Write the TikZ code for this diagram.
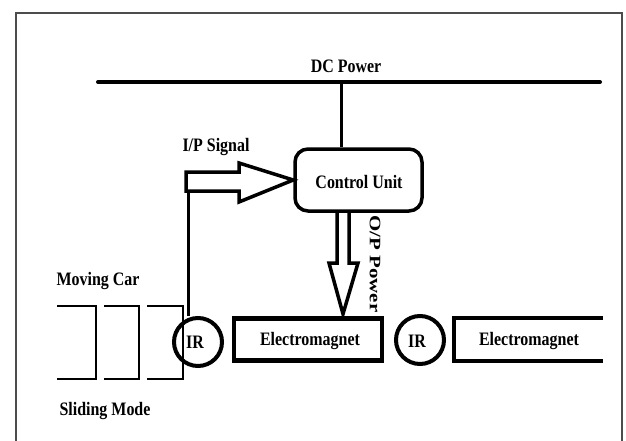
\documentclass[tikz,border=0pt]{standalone}
\usepackage{fontspec}
\setmainfont{Liberation Serif}
\newcommand\sqtxt[1]{\scalebox{0.84}[1]{#1}}
\newcommand\sqrot[1]{\scalebox{1.1}[0.84]{#1}}
\begin{document}
\begin{tikzpicture}[x=1pt,y=-1pt,
  lbl/.style={font=\fontsize{19}{22}\selectfont\bfseries, inner sep=0pt},
  thick line/.style={line width=3.5pt, line join=miter},
  irbox/.style={circle, draw, line width=4pt, minimum size=48pt, inner sep=0pt, font=\fontsize{19}{22}\selectfont\bfseries},
  embox/.style={rectangle, draw, line width=4.5pt, minimum width=148pt, minimum height=42pt, inner sep=0pt},
  carline/.style={line width=2.5pt},
  framestyle/.style={line width=1.5pt, draw=black!70}
]
\useasboundingbox (0,0) rectangle (626,441);
\fill[white] (0,0) rectangle (626,441);
% frame
\draw[framestyle] (16,441) -- (16,13) -- (622,13) -- (622,441);

% DC bus
\coordinate (busL) at (98,82);
\coordinate (busR) at (600,82);
\draw[line width=4pt, line cap=round] (busL) -- (busR);
\node[lbl] (dc) at (346,66) {\sqtxt{DC Power}};

% control unit
\node[draw, line width=3.5pt, rounded corners=13pt, minimum width=127pt, minimum height=62pt, inner sep=0pt] (cu) at (358.5,180) {};
\node[lbl] (cutxt) at (359,182) {\sqtxt{Control Unit}};
\coordinate (drop) at (341,82);
\draw[line width=3pt] (drop) -- (drop |- cu.north);

% IR sensors and electromagnets
\node[irbox] (ir1) at (198,342) {};
\node[lbl] (ir1t) at (195,342) {\sqtxt{IR}};
\node[irbox] (ir2) at (420,340) {};
\node[lbl] (ir2t) at (417,341) {\sqtxt{IR}};
\node[embox] (em1) at (308,339.5) {};
\node[lbl] (em1t) at (310,341) {\sqtxt{Electromagnet}};
\coordinate (em2tl) at (454,318);
\coordinate (em2tr) at (603,318);
\coordinate (em2bl) at (454,361);
\coordinate (em2br) at (603,361);
\draw[line width=4.5pt, line join=miter] (em2tr) -- (em2tl) -- (em2bl) -- (em2br);
\node[lbl] (em2t) at (529,341) {\sqtxt{Electromagnet}};

% I/P signal arrow
\coordinate (iptip) at (cu.west);
\draw[thick line] (186,172) -- (239,172) -- (239,163) -- (iptip) -- (239,202) -- (239,191) -- (186,191) -- cycle;
\node[lbl] (ipl) at (216,147) {\sqtxt{I/P Signal}};
\coordinate (ipfoot) at (188,191);
\draw[line width=3pt] (ipfoot) -- (ipfoot |- ir1.north);

% O/P power arrow
\coordinate (optip) at (343,314);
\draw[thick line] (337,211) -- (337,263) -- (329,263) -- (optip) -- (358,263) -- (349,263) -- (349,211);
\node[lbl, rotate=-90] (opl) at (375,264) {\sqrot{O/P Power}};

% moving car
\draw[carline] (57,306) -- (96,306) -- (96,379) -- (57,379);
\draw[carline] (104,306) -- (139,306) -- (139,379) -- (104,379);
\draw[carline] (147,306) -- (183,306) -- (183,379) -- (147,379);
\node[lbl] (mc) at (98,281) {\sqtxt{Moving Car}};
\node[lbl] (sm) at (105,411) {\sqtxt{Sliding Mode}};
\end{tikzpicture}
\end{document}
